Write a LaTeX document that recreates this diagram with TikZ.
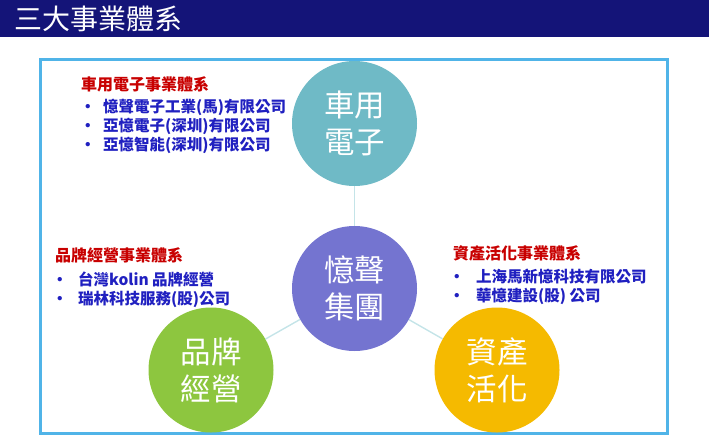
\documentclass[tikz,border=0pt]{standalone}
\usepackage{fontspec}
\setmainfont{Noto Sans CJK TC}
\usepackage{tikz}
\usetikzlibrary{calc}
\usepackage{xcolor}

\definecolor{banner}{RGB}{20,20,120}
\definecolor{frameblue}{RGB}{80,180,232}
\definecolor{carteal}{RGB}{111,186,198}
\definecolor{grouppurple}{RGB}{116,116,208}
\definecolor{brandgreen}{RGB}{141,198,63}
\definecolor{assetorange}{RGB}{245,186,0}
\definecolor{linkline}{RGB}{196,228,232}
\definecolor{headred}{RGB}{200,0,0}
\definecolor{itemblue}{RGB}{32,32,192}

\tikzset{
  hub/.style={circle, minimum size=125pt, inner sep=0pt, text=white,
    align=center, font=\fontsize{30.5}{37}\selectfont},
  head/.style={anchor=west, inner sep=0pt, text=headred,
    font=\fontsize{16}{19}\selectfont\bfseries},
  items/.style={anchor=north west, inner sep=0pt, text=itemblue, align=left,
    font=\fontsize{15.5}{19}\selectfont\bfseries},
  link/.style={draw=linkline, line width=1.4pt}
}
\newcommand{\itm}[2][23pt]{\makebox[#1][l]{•}#2}

\begin{document}
\begin{tikzpicture}[x=1pt, y=-1pt]
    \useasboundingbox (0,0) rectangle (709,442);
    % banner
    \fill[banner] (0,0) rectangle (709,37);
    \node[anchor=west, inner sep=0pt, text=white, font=\fontsize{28}{28}\selectfont] (title) at (14,19) {三大事業體系};
    % frame
    \draw[frameblue, line width=3pt] (40,59) rectangle (667,433);
    % circles
    \node[hub, fill=carteal]     (car)   at (354.5,123.5) {車用\\電子};
    \node[hub, fill=grouppurple] (group) at (354.5,288.5) {憶聲\\集團};
    \node[hub, fill=brandgreen]  (brand) at (211,370)     {品牌\\經營};
    \node[hub, fill=assetorange] (asset) at (497,370)     {資產\\活化};
    \path[link] (group) -- (car);
    \path[link] (group) -- (brand);
    \path[link] (group) -- (asset);
    % texts
    \node[head] (carhead) at (81,84) {車用電子事業體系};
    \node[items] (caritems) at (80,99) {\itm{憶聲電子工業(馬)有限公司}\\ \itm{亞憶電子(深圳)有限公司}\\ \itm{亞憶智能(深圳)有限公司}};
    \node[head] (brandhead) at (55,255) {品牌經營事業體系};
    \node[items] (branditems) at (52,272) {\itm[26pt]{台灣kolin 品牌經營}\\ \itm[26pt]{瑞林科技服務(股)公司}};
    \node[head] (assethead) at (453,253) {資產活化事業體系};
    \node[items] (assetitems) at (449,269) {\itm[27pt]{上海馬新憶科技有限公司}\\ \itm[27pt]{華憶建設(股) 公司}};
\end{tikzpicture}
\end{document}
